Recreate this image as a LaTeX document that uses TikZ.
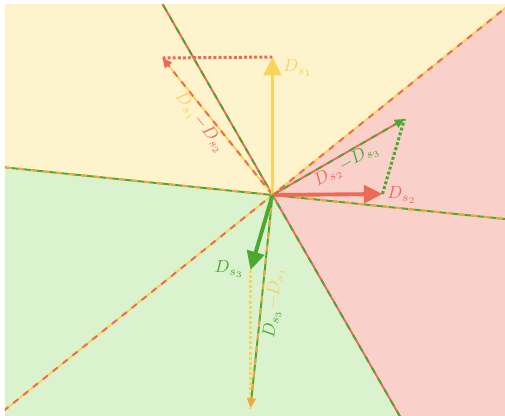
\documentclass[tikz,border=0pt]{standalone}
\usetikzlibrary{calc,arrows.meta}
\definecolor{yelfill}{HTML}{FDF3CC}
\definecolor{redfill}{HTML}{F9D1CA}
\definecolor{grnfill}{HTML}{DAF2CE}
\definecolor{yelc}{HTML}{F8D55A}
\definecolor{redc}{HTML}{EC6A56}
\definecolor{grnc}{HTML}{4DA830}
\definecolor{orac}{HTML}{F2A83C}
\tikzset{
  edge/.style={line width=1.1pt},
  twotone/.style={line width=1.1pt, dash pattern=on 3.6pt off 3.6pt},
  vec/.style={line width=2.2pt, -{Triangle[length=10.5pt,width=10pt]}},
  diff/.style={line width=1.1pt, dash pattern=on 3.6pt off 3.6pt, -{Triangle[length=5.5pt,width=5pt]}},
  hop/.style={line width=1.7pt, dash pattern=on 1.7pt off 1.2pt},
  lbl/.style={inner sep=1pt}
}
\begin{document}
\begin{tikzpicture}[x=0.02cm, y=0.02cm, line join=round]
  \useasboundingbox (-272.5,-221) rectangle (232.5,195);
  \coordinate (O) at (0,0);
  \coordinate (D1) at (0,138);
  \coordinate (D2) at (110,1);
  \coordinate (D3) at (-22,-75);
  \coordinate (D12) at ($(D1)-(D2)$);
  \coordinate (D23) at ($(D2)-(D3)$);
  \coordinate (D31) at ($(D3)-(D1)$);
  \begin{scope}
    \clip (-267.5,-221) rectangle (232.5,190);
    % regions
    \foreach \c/\a/\m/\b in {yelfill/D12/D1/D31, redfill/D23/D2/D12, grnfill/D31/D3/D23}
      \fill[\c] (O) -- ($(O)!15cm!-90:(\a)$) -- ($(O)!15cm!(\m)$) -- ($(O)!15cm!-90:(\b)$) -- cycle;
    % boundaries
    \foreach \a/\b/\p in {yelc/redc/D12, redc/grnc/D23, grnc/orac/D31}{
      \draw[edge, \a] ($(O)!15cm!90:(\p)$) -- ($(O)!15cm!-90:(\p)$);
      \draw[twotone, \b] ($(O)!15cm!90:(\p)$) -- ($(O)!15cm!-90:(\p)$);
    }
  \end{scope}
  % steps from each tip
  \draw[hop, redc] (D1) -- (D12);
  \draw[hop, grnc] (D2) -- (D23);
  \draw[hop, yelc] (D3) -- (D31);
  % differences
  \draw[edge, yelc, shorten >=3pt] (O) -- (D12);
  \draw[diff, redc] (O) -- (D12) node[lbl, pos=0.58, sloped, below] (l12)
    {\color{yelc}$D_{s_1}$\color{redc}$-D_{s_2}$};
  \draw[edge, redc, shorten >=3pt] (O) -- (D23);
  \draw[diff, grnc] (O) -- (D23) node[lbl, pos=0.52, sloped, below] (l23)
    {\color{redc}$D_{s_2}$\color{grnc}$-D_{s_3}$};
  \draw[edge, grnc, shorten >=3pt] (O) -- (D31);
  \draw[diff, orac] (O) -- (D31) node[lbl, pos=0.5, sloped, below, inner sep=2pt] (l31)
    {\color{grnc}$D_{s_3}$\color{yelc}$-D_{s_1}$};
  % the three vectors
  \draw[vec, yelc] (O) -- (D1);
  \draw[vec, redc] (O) -- (D2);
  \draw[vec, grnc] (O) -- (D3);
  \node[anchor=west, inner sep=2pt, yelc] (l1) at ($(D1)+(7,-11)$) {$D_{s_1}$};
  \node[anchor=west, inner sep=2pt, redc] (l2) at ($(D2)+(1,-1)$) {$D_{s_2}$};
  \node[anchor=east, inner sep=2pt, grnc] (l3) at ($(D3)+(-3,1)$) {$D_{s_3}$};
\end{tikzpicture}
\end{document}
